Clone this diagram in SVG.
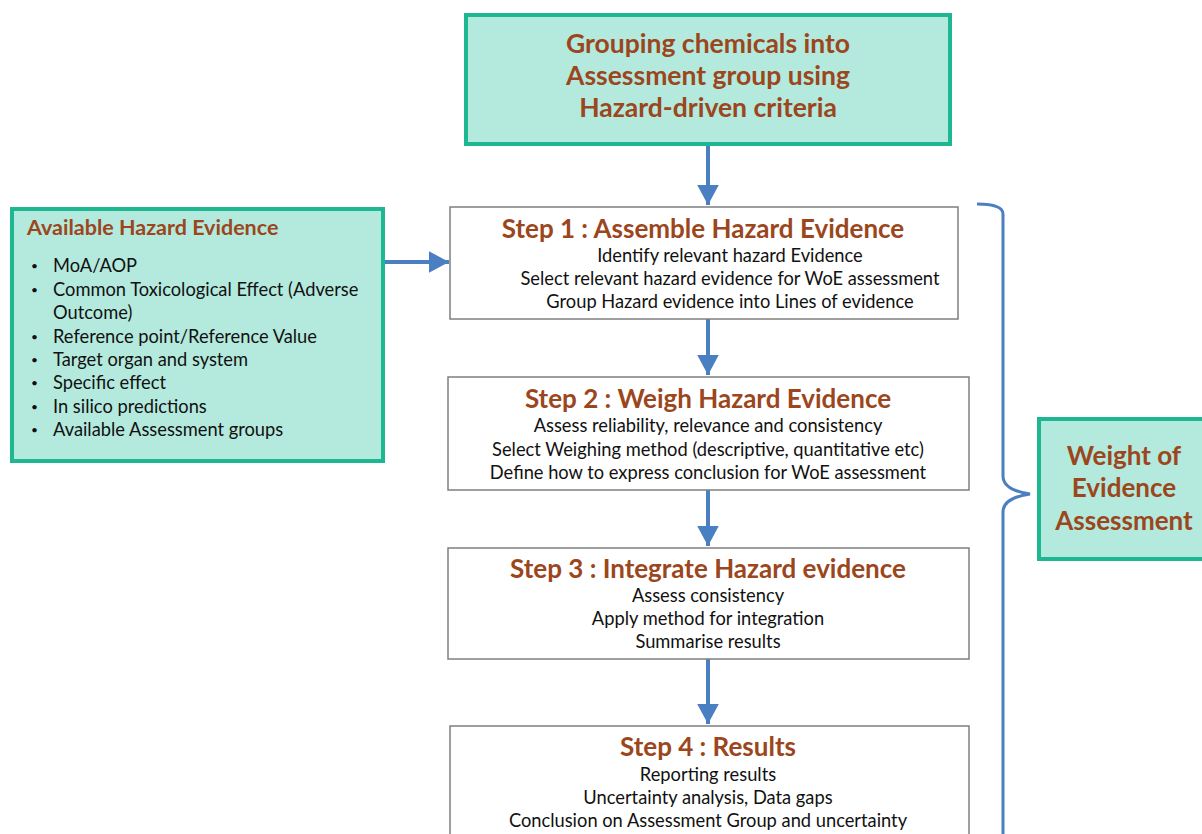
<svg xmlns="http://www.w3.org/2000/svg" width="1202" height="834" viewBox="0 0 1202 834">
<defs>
<style>
.teal{fill:#b4e9dd;stroke:#1db791;stroke-width:4}
.step{fill:#fff;stroke:#7f7f7f;stroke-width:1.5}
.h{font-family:Lato,"Liberation Sans",sans-serif;font-weight:bold;fill:#9b461c}
.t{font-family:Lato,"Liberation Sans",sans-serif;fill:#111;font-size:18.3px}
.b{font-size:12px}
.c{text-anchor:middle}
.ln{stroke:#4a7fc1;stroke-width:4;fill:none}
</style>
<marker id="ah" markerWidth="6" markerHeight="6" refX="5" refY="3" orient="auto" markerUnits="strokeWidth">
<path d="M0,0.3 L5,3 L0,5.7 Z" fill="#4a7fc1"/>
</marker>
</defs>
<rect width="1202" height="834" fill="#fff"/>
<g id="connectors">
<line class="ln" x1="708" y1="146" x2="708" y2="205" marker-end="url(#ah)"/>
<line class="ln" x1="384" y1="262" x2="449" y2="262" marker-end="url(#ah)"/>
<line class="ln" x1="708" y1="319" x2="708" y2="375" marker-end="url(#ah)"/>
<line class="ln" x1="708" y1="490" x2="708" y2="546" marker-end="url(#ah)"/>
<line class="ln" x1="708" y1="659" x2="708" y2="724" marker-end="url(#ah)"/>
<path d="M977,204 Q1003,204 1003,214 L1003,476 Q1003,490 1030,494 Q1003,498 1003,512 L1003,834" stroke="#4a7fc1" stroke-width="3" fill="none"/>
</g>
<g id="top">
<rect class="teal" x="466" y="15" width="484" height="129"/>
<text class="h c" font-size="26.5" x="708" y="53">Grouping chemicals into</text>
<text class="h c" font-size="26.5" x="708" y="85">Assessment group using</text>
<text class="h c" font-size="26.5" x="708" y="117">Hazard-driven criteria</text>
</g>
<g id="evidence">
<rect class="teal" x="12" y="209" width="371" height="252"/>
<text class="h" font-size="21.5" x="27" y="235">Available Hazard Evidence</text>
<g class="t">
<text class="b" x="31" y="270">•</text><text x="53" y="272">MoA/AOP</text>
<text class="b" x="31" y="294">•</text><text x="53" y="296">Common Toxicological Effect (Adverse</text>
<text x="53" y="319">Outcome)</text>
<text class="b" x="31" y="341">•</text><text x="53" y="343">Reference point/Reference Value</text>
<text class="b" x="31" y="364">•</text><text x="53" y="366">Target organ and system</text>
<text class="b" x="31" y="387">•</text><text x="53" y="389">Specific effect</text>
<text class="b" x="31" y="411">•</text><text x="53" y="413">In silico predictions</text>
<text class="b" x="31" y="434">•</text><text x="53" y="436">Available Assessment groups</text>
</g>
</g>
<g id="step1">
<rect class="step" x="450" y="207" width="508" height="112"/>
<text class="h c" font-size="26" x="703" y="238">Step 1 : Assemble Hazard Evidence</text>
<text class="t c" x="730" y="262">Identify relevant hazard Evidence</text>
<text class="t c" x="730" y="285">Select relevant hazard evidence for WoE assessment</text>
<text class="t c" x="730" y="308">Group Hazard evidence into Lines of evidence</text>
</g>
<g id="step2">
<rect class="step" x="448" y="377" width="521" height="113"/>
<text class="h c" font-size="26" x="708" y="408">Step 2 : Weigh Hazard Evidence</text>
<text class="t c" x="708" y="432">Assess reliability, relevance and consistency</text>
<text class="t c" x="708" y="456">Select Weighing method (descriptive, quantitative etc)</text>
<text class="t c" x="708" y="479">Define how to express conclusion for WoE assessment</text>
</g>
<g id="step3">
<rect class="step" x="448" y="548" width="521" height="111"/>
<text class="h c" font-size="26" x="708" y="578">Step 3 : Integrate Hazard evidence</text>
<text class="t c" x="708" y="602">Assess consistency</text>
<text class="t c" x="708" y="625">Apply method for integration</text>
<text class="t c" x="708" y="648">Summarise results</text>
</g>
<g id="step4">
<rect class="step" x="450" y="726" width="519" height="120"/>
<text class="h c" font-size="26" x="708" y="756">Step 4 : Results</text>
<text class="t c" x="708" y="781">Reporting results</text>
<text class="t c" x="708" y="804">Uncertainty analysis, Data gaps</text>
<text class="t c" x="708" y="827">Conclusion on Assessment Group and uncertainty</text>
</g>
<g id="woe">
<rect class="teal" x="1039" y="419" width="170" height="140"/>
<text class="h c" font-size="26" x="1124" y="465">Weight of</text>
<text class="h c" font-size="26" x="1124" y="497">Evidence</text>
<text class="h c" font-size="26" x="1124" y="530">Assessment</text>
</g>
</svg>
